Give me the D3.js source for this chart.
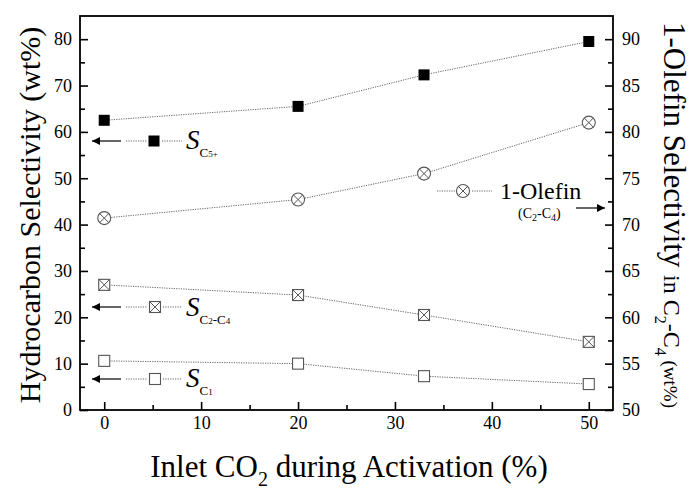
<!DOCTYPE html>
<html><head><meta charset="utf-8">
<script src="https://cdn.jsdelivr.net/npm/d3@7"></script>
<style>
html,body{margin:0;padding:0;background:#fff;}
svg{display:block;}
svg text{font-family:'Liberation Serif','Times New Roman','DejaVu Serif',serif;}
</style></head>
<body>
<svg id="chart" width="693" height="490"></svg>
<script>
// Data
const co2 = [0, 20, 33, 50];
const sC5 = [62.5, 65.5, 72.3, 79.5];          // left axis, wt%
const sC2C4 = [27.0, 24.8, 20.5, 14.7];       // left axis, wt%
const sC1 = [10.6, 10.0, 7.3, 5.6];           // left axis, wt%
const olefin = [70.7, 72.7, 75.5, 81.0];      // right axis, wt%
const xTicks = [0, 10, 20, 30, 40, 50];
const yLeftTicks = [0, 10, 20, 30, 40, 50, 60, 70, 80];
const yRightTicks = [50, 55, 60, 65, 70, 75, 80, 85, 90];

const svg = d3.select("#chart");
const L = 80, R = 613, T = 16, B = 410;
const x = d3.scaleLinear().domain([-2.5, 52.5]).range([L, R]);
const yL = d3.scaleLinear().domain([0, 85]).range([B, T]);
const yR = d3.scaleLinear().domain([50, 92.5]).range([B, T]);

svg.append("defs").append("marker").attr("id","arr").attr("viewBox","0 0 10 10")
  .attr("refX",10).attr("refY",5).attr("markerWidth",12).attr("markerHeight",8)
  .attr("markerUnits","userSpaceOnUse").attr("orient","auto")
  .append("path").attr("d","M0,0L10,5L0,10Z").attr("fill","#000");

const g = svg.append("g");
const fs = "18px";
const bottom = g.append("g").attr("transform",`translate(0,${B})`)
  .call(d3.axisBottom(x).tickValues(xTicks).tickSizeInner(-8).tickSizeOuter(0).tickPadding(6));
const bottomMinor = g.append("g").attr("transform",`translate(0,${B})`)
  .call(d3.axisBottom(x).tickValues([5,15,25,35,45]).tickSizeInner(-5).tickSizeOuter(0).tickFormat(""));
const left = g.append("g").attr("transform",`translate(${L},0)`)
  .call(d3.axisLeft(yL).tickValues(yLeftTicks).tickSizeInner(-8).tickSizeOuter(0).tickPadding(8));
const leftMinor = g.append("g").attr("transform",`translate(${L},0)`)
  .call(d3.axisLeft(yL).tickValues([5,15,25,35,45,55,65,75]).tickSizeInner(-5).tickSizeOuter(0).tickFormat(""));
const right = g.append("g").attr("transform",`translate(${R},0)`)
  .call(d3.axisRight(yR).tickValues(yRightTicks).tickSizeInner(-8).tickSizeOuter(0).tickPadding(9));
const rightMinor = g.append("g").attr("transform",`translate(${R},0)`)
  .call(d3.axisRight(yR).tickValues([52.5,57.5,62.5,67.5,72.5,77.5,82.5,87.5]).tickSizeInner(-5).tickSizeOuter(0).tickFormat(""));
[bottom,bottomMinor,left,leftMinor,right,rightMinor].forEach(a=>{
  a.attr("font-family",null);
  a.select(".domain").remove();
  a.selectAll("line").attr("stroke","#000").attr("stroke-width",1.6);
  a.selectAll("text").attr("font-size",fs).attr("fill","#000");
});
svg.append("rect").attr("x",L).attr("y",T).attr("width",R-L).attr("height",B-T)
  .attr("fill","none").attr("stroke","#000").attr("stroke-width",1.8);

function series(vals, yScale){
  const pts = co2.map((c,i)=>[x(c), yScale(vals[i])]);
  svg.append("path").attr("d", d3.line()(pts)).attr("fill","none")
    .attr("stroke","#666").attr("stroke-width",1).attr("stroke-dasharray","1.2,1.2");
  return pts;
}
function marker(type, cx, cy){
  const s = 11, h = s/2;
  if(type==="filled"){
    svg.append("rect").attr("x",cx-h).attr("y",cy-h).attr("width",s).attr("height",s).attr("fill","#000");
  } else if(type==="open"){
    svg.append("rect").attr("x",cx-h).attr("y",cy-h).attr("width",s).attr("height",s).attr("fill","#fff").attr("stroke","#555").attr("stroke-width",1.1);
  } else if(type==="boxx"){
    svg.append("rect").attr("x",cx-h).attr("y",cy-h).attr("width",s).attr("height",s).attr("fill","#fff").attr("stroke","#555").attr("stroke-width",1.1);
    svg.append("path").attr("d",`M${cx-h},${cy-h}L${cx+h},${cy+h}M${cx+h},${cy-h}L${cx-h},${cy+h}`).attr("stroke","#555").attr("stroke-width",1);
  } else if(type==="circx"){
    const r = 6.5, d = r*Math.SQRT1_2;
    svg.append("circle").attr("cx",cx).attr("cy",cy).attr("r",r).attr("fill","#fff").attr("stroke","#555").attr("stroke-width",1.1);
    svg.append("path").attr("d",`M${cx-d},${cy-d}L${cx+d},${cy+d}M${cx+d},${cy-d}L${cx-d},${cy+d}`).attr("stroke","#555").attr("stroke-width",1);
  }
}
const groups = [
  {vals:sC5, y:yL, type:"filled"},
  {vals:olefin, y:yR, type:"circx"},
  {vals:sC2C4, y:yL, type:"boxx"},
  {vals:sC1, y:yL, type:"open"}
];
groups.forEach(gr=>{
  const pts = series(gr.vals, gr.y);
  pts.forEach(p=>marker(gr.type, p[0], p[1]));
});

function dotted(x1,x2,y){
  svg.append("line").attr("x1",x1).attr("x2",x2).attr("y1",y).attr("y2",y)
    .attr("stroke","#666").attr("stroke-width",1).attr("stroke-dasharray","1.2,1.2");
}
function arrow(x1,x2,y){
  svg.append("line").attr("x1",x1).attr("x2",x2).attr("y1",y).attr("y2",y)
    .attr("stroke","#000").attr("stroke-width",1.2).attr("marker-end","url(#arr)");
}
function sLabel(xx, yy, parts){
  const t = svg.append("text").attr("x",xx).attr("y",yy).attr("fill","#000");
  t.append("tspan").attr("font-style","italic").attr("font-size","27px").text("S");
  parts.forEach(p=>{
    t.append("tspan").attr("font-size",p.fs||"13px").attr("dy",p.dy||0).text(p.t);
  });
}
arrow(121, 92, 141); dotted(126,147,141); marker("filled",154,141); dotted(162,182,141);
sLabel(186, 149, [{t:"C",dy:8,fs:"13px"},{t:"5+",dy:0,fs:"9px"}]);
arrow(121, 92, 307); dotted(126,147,307); marker("boxx",155,307); dotted(163,182,307);
sLabel(186, 316, [{t:"C",dy:8,fs:"13px"},{t:"2",dy:0,fs:"9px"},{t:"-C",dy:0,fs:"13px"},{t:"4",dy:0,fs:"9px"}]);
arrow(121, 92, 379); dotted(126,147,379); marker("open",155,379); dotted(163,182,379);
sLabel(186, 387, [{t:"C",dy:8,fs:"13px"},{t:"1",dy:0,fs:"9px"}]);
dotted(437,456,191); marker("circx",463,191); dotted(472,492,191);
svg.append("text").attr("x",500).attr("y",199).attr("font-size","24px").text("1-Olefin");
const ot = svg.append("text").attr("x",518).attr("y",218).attr("font-size","14px");
ot.append("tspan").text("(C");
ot.append("tspan").attr("font-size","10px").attr("dy",3).text("2");
ot.append("tspan").attr("dy",-3).text("-C");
ot.append("tspan").attr("font-size","10px").attr("dy",3).text("4");
ot.append("tspan").attr("dy",-3).text(")");
arrow(576, 605, 208);

svg.append("text").attr("transform",`translate(40,${(T+B)/2+2}) rotate(-90)`).attr("text-anchor","middle")
  .attr("font-size","30px").text("Hydrocarbon Selectivity (wt%)");
const bt = svg.append("text").attr("x",349).attr("y",477).attr("text-anchor","middle")
  .attr("font-size","31px");
bt.append("tspan").text("Inlet CO");
bt.append("tspan").attr("font-size","20px").attr("dy",9).text("2");
bt.append("tspan").attr("dy",-9).text(" during Activation (%)");
const rt = svg.append("text").attr("transform",`translate(664,22) rotate(90)`)
  .attr("font-size","31px");
rt.append("tspan").text("1-Olefin Selectivity ");
rt.append("tspan").attr("font-size","24px").text("in C");
rt.append("tspan").attr("font-size","16px").attr("dy",9).text("2");
rt.append("tspan").attr("font-size","24px").attr("dy",-9).text("-C");
rt.append("tspan").attr("font-size","16px").attr("dy",9).text("4");
rt.append("tspan").attr("font-size","19px").attr("dy",-9).text(" (wt%)");
</script>
</body></html>
